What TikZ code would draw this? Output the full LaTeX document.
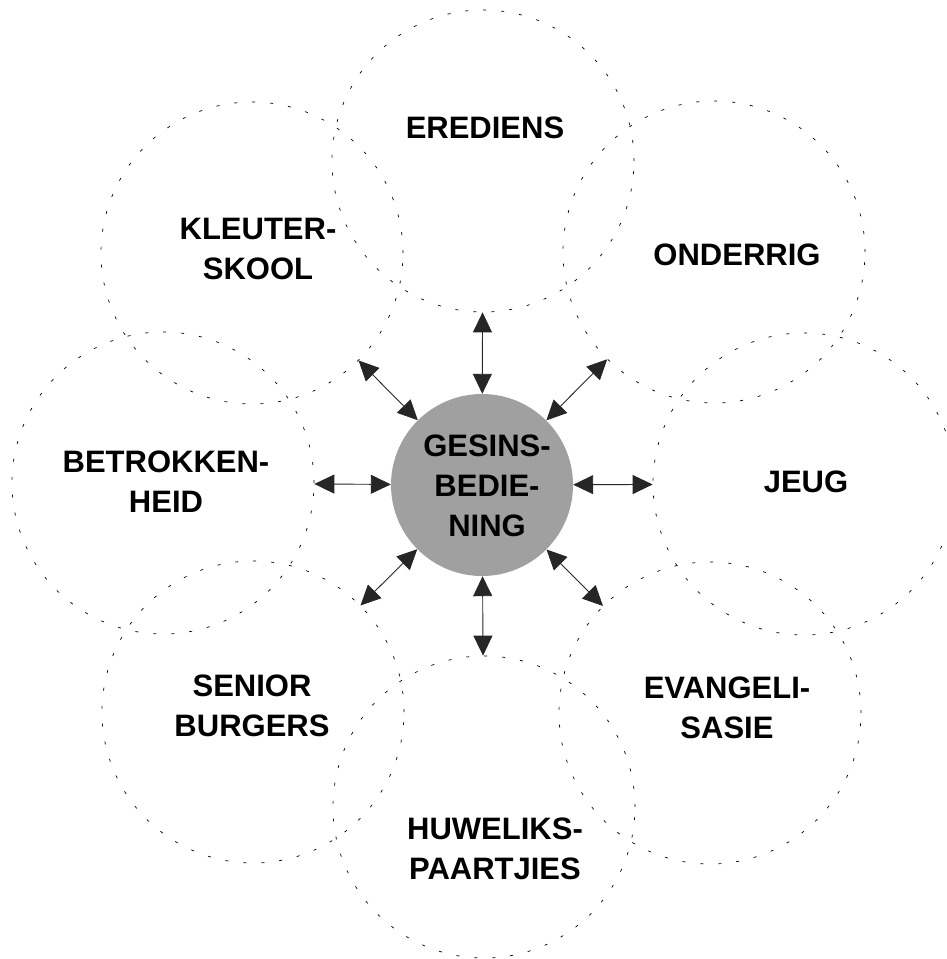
\documentclass[tikz,border=0pt]{standalone}
\usepackage{fontspec}
\setmainfont{Liberation Sans}
\usetikzlibrary{arrows.meta}
\definecolor{hubgray}{RGB}{160,160,160}
\begin{document}
\begin{tikzpicture}[x=1pt,y=-1pt,
  area/.style={circle, draw=black, line width=0.7pt, dash pattern=on 3pt off 15pt, minimum size=302pt, inner sep=0pt},
  hub/.style={circle, fill=hubgray, minimum size=182pt, inner sep=0pt},
  lbl/.style={font=\bfseries\fontsize{31}{40}\selectfont, align=center, inner sep=0pt},
  link/.style={{Triangle[length=20pt,width=19pt]}-{Triangle[length=20pt,width=19pt]}, line width=0.9pt, draw=black!85}
]
\useasboundingbox (0,0) rectangle (946,959);
\clip (0,0) rectangle (946,959);
% outer circles
\node[area] (ered) at (483,161) {};
\node[area] (kleu) at (252,253) {};
\node[area] (ond)  at (714,252) {};
\node[area] (bet)  at (163,483) {};
\node[area] (jeug) at (804,484) {};
\node[area] (sen)  at (253,712) {};
\node[area] (evan) at (710,713) {};
\node[area] (huw)  at (484,807) {};
% hub
\node[hub] (hub) at (482,485) {};
% labels
\node[lbl] (tered) at (485,127.5) {EREDIENS};
\node[lbl] (tkleu) at (258,249) {KLEUTER-\\SKOOL};
\node[lbl] (tond)  at (737,255) {ONDERRIG};
\node[lbl] (tbet)  at (166,482) {BETROKKEN-\\HEID};
\node[lbl] (tjeug) at (806,482) {JEUG};
\node[lbl] (tsen)  at (252,706) {SENIOR\\BURGERS};
\node[lbl] (tevan) at (727,708) {EVANGELI-\\SASIE};
\node[lbl] (thuw)  at (495,849) {HUWELIKS-\\PAARTJIES};
\node[lbl] (thub)  at (487,486) {GESINS-\\BEDIE-\\NING};
% connectors
\foreach \o in {ered,kleu,ond,bet,jeug,sen,evan,huw}
  \draw[link] (\o) -- (hub);
\end{tikzpicture}
\end{document}
